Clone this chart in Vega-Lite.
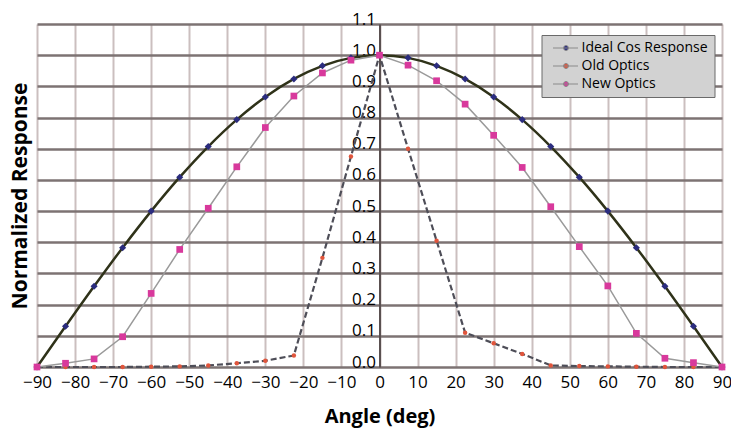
{
  "$schema": "https://vega.github.io/schema/vega-lite/v6.json",
  "width": 685,
  "height": 343,
  "autosize": "none",
  "padding": {"left": 37, "top": 24, "right": 9, "bottom": 67},
  "background": "white",
  "config": {"font": "Open Sans", "view": {"stroke": null}},
  "data": {"values": [
    {"angle": -90, "series": "Ideal Cos Response", "value": 0},
    {"angle": -82.5, "series": "Ideal Cos Response", "value": 0.1305},
    {"angle": -75, "series": "Ideal Cos Response", "value": 0.2588},
    {"angle": -67.5, "series": "Ideal Cos Response", "value": 0.3827},
    {"angle": -60, "series": "Ideal Cos Response", "value": 0.5},
    {"angle": -52.5, "series": "Ideal Cos Response", "value": 0.6088},
    {"angle": -45, "series": "Ideal Cos Response", "value": 0.7071},
    {"angle": -37.5, "series": "Ideal Cos Response", "value": 0.7934},
    {"angle": -30, "series": "Ideal Cos Response", "value": 0.866},
    {"angle": -22.5, "series": "Ideal Cos Response", "value": 0.9239},
    {"angle": -15, "series": "Ideal Cos Response", "value": 0.9659},
    {"angle": -7.5, "series": "Ideal Cos Response", "value": 0.9914},
    {"angle": 0, "series": "Ideal Cos Response", "value": 1},
    {"angle": 7.5, "series": "Ideal Cos Response", "value": 0.9914},
    {"angle": 15, "series": "Ideal Cos Response", "value": 0.9659},
    {"angle": 22.5, "series": "Ideal Cos Response", "value": 0.9239},
    {"angle": 30, "series": "Ideal Cos Response", "value": 0.866},
    {"angle": 37.5, "series": "Ideal Cos Response", "value": 0.7934},
    {"angle": 45, "series": "Ideal Cos Response", "value": 0.7071},
    {"angle": 52.5, "series": "Ideal Cos Response", "value": 0.6088},
    {"angle": 60, "series": "Ideal Cos Response", "value": 0.5},
    {"angle": 67.5, "series": "Ideal Cos Response", "value": 0.3827},
    {"angle": 75, "series": "Ideal Cos Response", "value": 0.2588},
    {"angle": 82.5, "series": "Ideal Cos Response", "value": 0.1305},
    {"angle": 90, "series": "Ideal Cos Response", "value": 0},
    {"angle": -90, "series": "Old Optics", "value": 0},
    {"angle": -82.5, "series": "Old Optics", "value": 0},
    {"angle": -75, "series": "Old Optics", "value": 0},
    {"angle": -67.5, "series": "Old Optics", "value": 0},
    {"angle": -60, "series": "Old Optics", "value": 0.001},
    {"angle": -52.5, "series": "Old Optics", "value": 0.002},
    {"angle": -45, "series": "Old Optics", "value": 0.005},
    {"angle": -37.5, "series": "Old Optics", "value": 0.012},
    {"angle": -30, "series": "Old Optics", "value": 0.02},
    {"angle": -22.5, "series": "Old Optics", "value": 0.037},
    {"angle": -15, "series": "Old Optics", "value": 0.35},
    {"angle": -7.5, "series": "Old Optics", "value": 0.675},
    {"angle": 0, "series": "Old Optics", "value": 1},
    {"angle": 7.5, "series": "Old Optics", "value": 0.7},
    {"angle": 15, "series": "Old Optics", "value": 0.405},
    {"angle": 22.5, "series": "Old Optics", "value": 0.11},
    {"angle": 30, "series": "Old Optics", "value": 0.076},
    {"angle": 37.5, "series": "Old Optics", "value": 0.042},
    {"angle": 45, "series": "Old Optics", "value": 0.005},
    {"angle": 52.5, "series": "Old Optics", "value": 0.003},
    {"angle": 60, "series": "Old Optics", "value": 0.002},
    {"angle": 67.5, "series": "Old Optics", "value": 0.001},
    {"angle": 75, "series": "Old Optics", "value": 0},
    {"angle": 82.5, "series": "Old Optics", "value": 0},
    {"angle": 90, "series": "Old Optics", "value": 0},
    {"angle": -90, "series": "New Optics", "value": 0},
    {"angle": -82.5, "series": "New Optics", "value": 0.012},
    {"angle": -75, "series": "New Optics", "value": 0.026},
    {"angle": -67.5, "series": "New Optics", "value": 0.097},
    {"angle": -60, "series": "New Optics", "value": 0.236},
    {"angle": -52.5, "series": "New Optics", "value": 0.377},
    {"angle": -45, "series": "New Optics", "value": 0.509},
    {"angle": -37.5, "series": "New Optics", "value": 0.642},
    {"angle": -30, "series": "New Optics", "value": 0.768},
    {"angle": -22.5, "series": "New Optics", "value": 0.869},
    {"angle": -15, "series": "New Optics", "value": 0.943},
    {"angle": -7.5, "series": "New Optics", "value": 0.984},
    {"angle": 0, "series": "New Optics", "value": 1},
    {"angle": 7.5, "series": "New Optics", "value": 0.968},
    {"angle": 15, "series": "New Optics", "value": 0.918},
    {"angle": 22.5, "series": "New Optics", "value": 0.843},
    {"angle": 30, "series": "New Optics", "value": 0.743},
    {"angle": 37.5, "series": "New Optics", "value": 0.64},
    {"angle": 45, "series": "New Optics", "value": 0.514},
    {"angle": 52.5, "series": "New Optics", "value": 0.386},
    {"angle": 60, "series": "New Optics", "value": 0.26},
    {"angle": 67.5, "series": "New Optics", "value": 0.108},
    {"angle": 75, "series": "New Optics", "value": 0.028},
    {"angle": 82.5, "series": "New Optics", "value": 0.014},
    {"angle": 90, "series": "New Optics", "value": 0}
  ]},
  "encoding": {
    "x": {
      "field": "angle", "type": "quantitative",
      "scale": {"domain": [-90, 90], "nice": false, "zero": false},
      "axis": {
        "values": [-90, -80, -70, -60, -50, -40, -30, -20, -10, 0, 10, 20, 30, 40, 50, 60, 70, 80, 90],
        "format": "d",
        "title": "Angle (deg)", "titleFontSize": 20, "titleFontWeight": "bold", "titleColor": "black", "titlePadding": 16,
        "labelFontSize": 17, "labelColor": "black", "labelPadding": 7, "labelFlush": false, "labelOverlap": false,
        "ticks": false, "domain": false,
        "grid": true, "gridColor": "#cbbfbf", "gridWidth": 2
      }
    }
  },
  "layer": [
    {
      "transform": [{"filter": "datum.series === 'Ideal Cos Response'"}],
      "mark": {"type": "line", "color": "#2f3219", "strokeWidth": 2.5, "interpolate": "monotone"},
      "encoding": {
        "y": {
          "field": "value", "type": "quantitative",
          "scale": {"domain": [0, 1.1], "nice": false, "zero": true},
          "axis": {
            "orient": "left", "title": "Normalized Response", "titleFontSize": 21, "titleFontWeight": "bold", "titleColor": "black", "titlePadding": 7,
            "labels": false, "ticks": false, "domain": false,
            "grid": true, "gridColor": "#7d7373", "gridWidth": 2.5,
            "values": [0, 0.1, 0.2, 0.3, 0.4, 0.5, 0.6, 0.7, 0.8, 0.9, 1.0, 1.1]
          }
        }
      }
    },
    {
      "transform": [{"filter": "datum.series === 'Old Optics'"}],
      "mark": {"type": "line", "color": "#4e4e58", "strokeWidth": 2.2, "strokeDash": [6, 3]},
      "encoding": {"y": {"field": "value", "type": "quantitative", "axis": null}}
    },
    {
      "transform": [{"filter": "datum.series === 'New Optics'"}],
      "mark": {"type": "line", "color": "#9a9a9a", "strokeWidth": 1.5},
      "encoding": {"y": {"field": "value", "type": "quantitative", "axis": null}}
    },
    {
      "encoding": {
        "y": {
          "field": "value", "type": "quantitative",
          "axis": {
            "orient": "left", "offset": -342.5, "title": null, "grid": false, "ticks": false,
            "domain": true, "domainColor": "#5a5050", "domainWidth": 2,
            "labelFontSize": 17, "labelColor": "black", "labelBaseline": "alphabetic", "labelPadding": 4,
            "labelFlush": false, "labelOverlap": false, "format": ".1f",
            "values": [0, 0.1, 0.2, 0.3, 0.4, 0.5, 0.6, 0.7, 0.8, 0.9, 1.0, 1.1]
          }
        },
        "color": {
          "field": "series", "type": "nominal",
          "scale": {"domain": ["Ideal Cos Response", "Old Optics", "New Optics"], "range": ["#2b2c7e", "#e0553c", "#d8399c"]},
          "legend": {
            "title": null, "orient": "none", "legendX": 504.5, "legendY": 11,
            "fillColor": "#d2d2d2", "strokeColor": "#6a6a6a", "padding": 6,
            "labelFontSize": 14, "labelColor": "black", "labelOffset": 20, "rowPadding": 4,
            "symbolType": "M-0.3,0L4.7,0M1.8,0A0.5,0.5,0,1,0,2.8,0A0.5,0.5,0,1,0,1.8,0Z",
            "symbolSize": 100, "symbolStrokeColor": "#8a8a8a", "symbolStrokeWidth": 1, "symbolOpacity": 1
          }
        }
      },
      "layer": [
        {
          "transform": [{"filter": "datum.series === 'Ideal Cos Response'"}],
          "mark": {"type": "point", "filled": true, "opacity": 1, "shape": "diamond", "size": 50}
        },
        {
          "transform": [{"filter": "datum.series === 'Old Optics'"}],
          "mark": {"type": "point", "filled": true, "opacity": 1, "shape": "circle", "size": 20}
        },
        {
          "transform": [{"filter": "datum.series === 'New Optics'"}],
          "mark": {"type": "point", "filled": true, "opacity": 1, "shape": "square", "size": 45}
        }
      ]
    }
  ],
  "resolve": {"axis": {"y": "independent"}}
}
